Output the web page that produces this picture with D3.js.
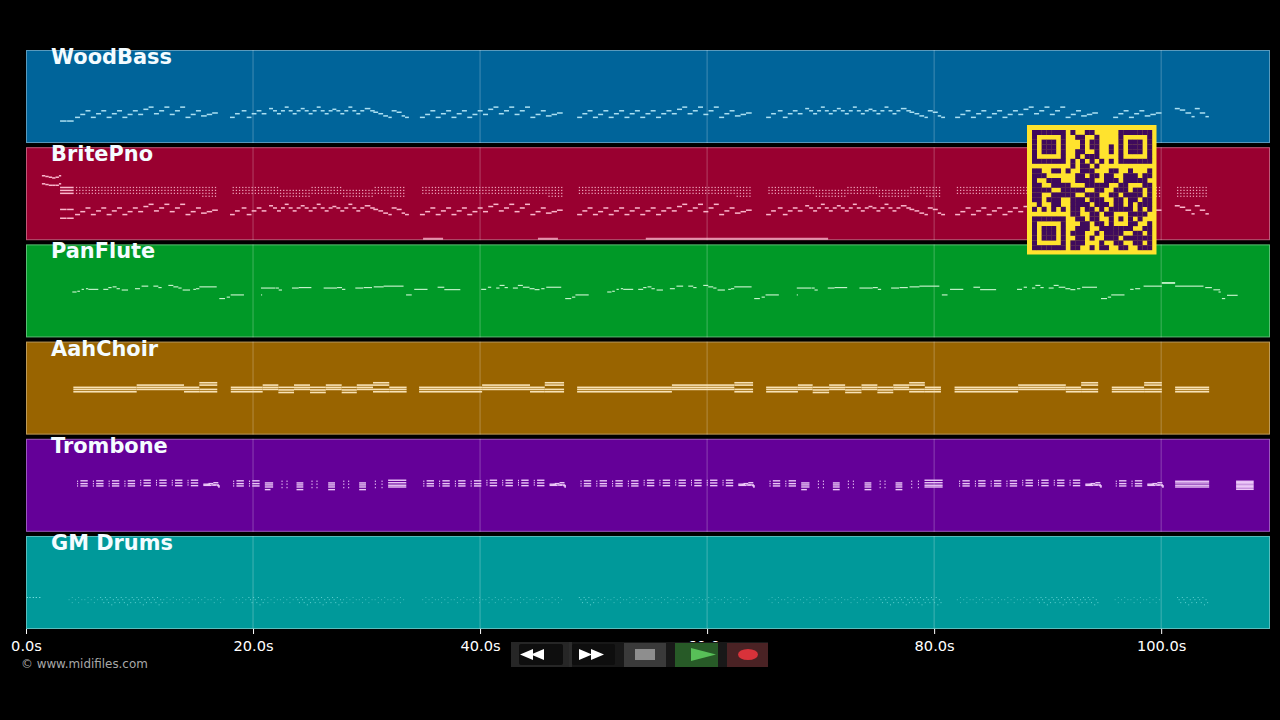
<!DOCTYPE html>
<html>
<head>
<meta charset="utf-8">
<title>MIDI piano roll</title>
<script src="https://cdn.jsdelivr.net/npm/d3@7"></script>
<style>
  html, body { margin: 0; background: #000; }
  svg { display: block; }
  text { font-family: "DejaVu Sans", sans-serif; }
</style>
</head>
<body>
<svg id="canvas" width="1280" height="720"></svg>
<script>
// tracks and axis
const trackNames = ['WoodBass', 'BritePno', 'PanFlute', 'AahChoir', 'Trombone', 'GM Drums'];
const tickTimes = [0, 20, 40, 60, 80, 100];
const tickLabels = ['0.0s', '20.0s', '40.0s', '60.0s', '80.0s', '100.0s'];
const songEnd = 109.5;

// phrases are [start, length, pitch], start counted from the beginning of the phrase
const bassIntro = [[3.0, .58, 30], [3.62, .58, 30]];
const bassA = [
  [0, .44, 35], [.46, .44, 39], [.92, .44, 44],
  [1.39, .44, 35], [1.85, .44, 40], [2.31, .44, 44],
  [2.78, .44, 35], [3.24, .44, 40], [3.7, .44, 44],
  [4.17, .44, 35], [4.63, .44, 39], [5.09, .44, 44],
  [5.56, .44, 39], [6.02, .44, 46], [6.48, .44, 49],
  [6.95, .44, 40], [7.41, .44, 44], [7.87, .44, 49],
  [8.34, .44, 39], [8.8, .44, 44], [9.26, .44, 49],
  [9.73, .44, 35], [10.19, .44, 39], [10.65, .44, 44],
  [11.1, .5, 37], [11.6, .48, 39], [12.08, .5, 41]
];
const bassA2 = [
  [0, .44, 35], [.46, .44, 40], [.92, .44, 44],
  [1.39, .44, 35], [1.85, .44, 39], [2.31, .44, 44],
  [2.78, .44, 35], [3.24, .44, 40], [3.7, .44, 44],
  [4.17, .44, 35], [4.63, .44, 40], [5.09, .44, 44],
  [5.56, .44, 35], [6.02, .44, 40], [6.48, .44, 44],
  [6.95, .44, 35], [7.41, .44, 40], [7.87, .44, 44],
  [8.34, .44, 40], [8.8, .44, 46], [9.26, .44, 49],
  [9.73, .44, 40], [10.19, .44, 44], [10.65, .44, 49],
  [11.12, .44, 39], [11.58, .44, 44], [12.04, .44, 49],
  [12.51, .44, 35], [12.97, .44, 40], [13.43, .44, 44],
  [13.9, .5, 37], [14.4, .48, 39], [14.88, .5, 41]
];
const bassB = [
  [0, .42, 35], [.44, .42, 40], [1.03, .42, 44],
  [1.47, .42, 35], [1.91, .42, 40], [2.35, .42, 44], [2.79, .42, 40],
  [3.44, .35, 47], [3.79, .35, 44], [4.14, .35, 40], [4.49, .35, 44],
  [4.82, .35, 49], [5.17, .35, 44], [5.52, .35, 40], [5.87, .35, 44],
  [6.23, .35, 47], [6.58, .35, 44], [6.93, .35, 40], [7.28, .35, 44],
  [7.64, .35, 49], [7.99, .35, 44], [8.34, .35, 40], [8.69, .35, 44],
  [9.02, .35, 46], [9.37, .35, 44], [9.72, .35, 40], [10.07, .35, 44],
  [10.43, .35, 49], [10.78, .35, 44], [11.13, .35, 40], [11.48, .35, 44],
  [11.87, .5, 47], [12.35, .4, 44], [12.63, .42, 42], [13.07, .42, 40], [13.5, .42, 37], [13.95, .3, 35],
  [14.24, .44, 44], [14.68, .44, 42], [15.12, .3, 37], [15.42, .34, 35]
];
const bassC = [
  [0, .44, 35], [.46, .44, 40], [.92, .44, 44],
  [1.39, .44, 35], [1.85, .44, 40], [2.31, .44, 44],
  [2.78, .5, 37], [3.28, .48, 39], [3.76, .5, 41]
];
const bassD = [[0, .44, 47], [.44, .48, 45], [.94, .5, 41], [1.47, .28, 36], [1.76, .44, 47], [2.2, .48, 41], [2.7, .3, 36]];
const bassAStarts = [4.32, 34.7, 81.85];
const bassA2Starts = [48.55];
const bassBStarts = [17.97, 65.2];
const bassCStarts = [95.77];
const bassDStarts = [101.2];

// piano chords: one voicing per 1.39s group, struck five times in the group
const groupLength = 1.39;
const pianoHits = [0, .28, .56, .84, 1.12];
const chordHigh = [72, 68, 64];
const chordLow = [68, 64, 60];
const chordFull = [72, 68, 64, 60];
const pianoVoicingA = [chordHigh, chordHigh, chordHigh, chordHigh, chordHigh, chordHigh, chordHigh, chordHigh, chordFull];
const pianoVoicingA2 = [chordHigh, chordHigh, chordHigh, chordHigh, chordHigh, chordHigh, chordHigh, chordHigh, chordHigh, chordHigh, chordFull];
const pianoVoicingB = [chordHigh, chordHigh, chordHigh, chordLow, chordLow, chordHigh, chordHigh, chordLow, chordLow, chordHigh, chordFull];
const pianoVoicingC = [chordHigh, chordHigh, chordFull];
const pianoVoicingD = [chordFull, chordFull];
const pianoAStarts = [4.4, 34.9, 82.0];
const pianoA2Starts = [48.7];
const pianoBStarts = [18.2, 65.4];
const pianoCStarts = [95.9];
const pianoDStarts = [101.4];
const pianoIntro = [
  [1.4, .3, 88], [1.7, .3, 87], [2.0, .3, 86], [2.3, .3, 85], [2.6, .3, 86], [2.9, .2, 88],
  [1.4, .3, 77], [1.7, .3, 76], [2.0, .3, 75], [2.3, .3, 75], [2.6, .3, 75], [2.9, .2, 77],
  [3.0, 1.2, 72], [3.0, 1.2, 68], [3.0, 1.2, 64],
  [3.0, .58, 42], [3.62, .58, 42], [3.0, .58, 30], [3.62, .58, 30]
];
const pianoLowNotes = [[34.98, 1.76, 2], [45.1, 1.76, 2], [54.6, 16.06, 2]];

const fluteF1 = [
  [0, .38, 62], [.44, .23, 63], [.82, .2, 65.6], [1.2, .2, 66.5], [1.41, .88, 65.6],
  [2.73, .44, 65.6], [3.17, .29, 68], [3.55, .35, 69], [3.9, .29, 66.5], [4.35, .56, 64.7],
  [5.52, .44, 66.5], [6.1, .59, 70], [7.14, .44, 70], [7.58, .29, 68],
  [8.46, .44, 71], [8.9, .44, 69], [9.34, .29, 67.4], [9.72, .65, 64.7],
  [10.66, .23, 65.6], [10.9, .29, 66.5], [11.19, 1.53, 69],
  [12.95, .5, 53], [13.6, .29, 55], [13.95, 1.17, 58]
];
const fluteF1Short = [
  [0, .44, 65.6], [.59, .29, 68.5], [1.32, .29, 67.4], [1.62, .44, 71], [2.06, .29, 68],
  [2.79, .44, 67.4], [3.23, .44, 71], [3.67, .59, 68.5], [4.26, .44, 66.5], [4.7, .44, 65.2],
  [5.29, .29, 66.5], [5.73, 1.32, 68.5],
  [7.4, .53, 53], [8.0, .29, 55], [8.3, 1.17, 58]
];
const fluteF2 = [
  [0, .1, 58], [0, 1.26, 67.4], [1.29, .29, 67.4], [1.56, .29, 64.7],
  [2.73, .59, 67.4], [3.32, 1.12, 68],
  [5.52, 1.17, 67.4], [6.7, .44, 68], [7.14, .29, 65.6],
  [8.31, .7, 67.4], [9.05, .73, 68], [9.93, .88, 69], [10.8, 1.76, 70],
  [12.78, .5, 58], [13.5, 1.17, 65.6], [15.56, .59, 68.5], [16.15, 1.41, 65.2]
];
const fluteEnd = [
  [97.27, .3, 65.6], [97.71, .44, 66.5], [98.45, 1.61, 70], [100.06, 1.17, 74.7], [100.06, 1.17, 74],
  [101.23, 2.5, 70], [103.88, .59, 68], [104.6, .59, 65], [105.05, .2, 62], [105.35, .29, 53], [105.8, .94, 57.5]
];
const fluteF1Starts = [4.08, 51.2];
const fluteShortStarts = [40.1, 87.3];
const fluteF2Starts = [20.7, 67.9];

// choir blocks are [start, end, chord]
const choirChordA = [64.5, 61.7, 58.5];
const choirChordB = [67.6, 64.5, 61.7];
const choirChordC = [64.5, 61, 57.5];
const choirChordD = [70.8, 67.6, 61.7, 58.5];
const choirBlocks = [
  [4.17, 9.75, choirChordA], [9.75, 13.92, choirChordB], [13.92, 15.27, choirChordA], [15.27, 16.85, choirChordD],
  [18.04, 20.85, choirChordA], [20.85, 22.23, choirChordB], [22.23, 23.61, choirChordC], [23.61, 25.02, choirChordB],
  [25.02, 26.41, choirChordC], [26.41, 27.81, choirChordB], [27.81, 29.14, choirChordC], [29.14, 30.57, choirChordB],
  [30.57, 32.0, choirChordD], [32.0, 33.53, choirChordA],
  [34.63, 40.18, choirChordA], [40.18, 44.4, choirChordB], [44.4, 45.7, choirChordA], [45.7, 47.4, choirChordD],
  [48.55, 56.9, choirChordA], [56.9, 62.4, choirChordB], [62.4, 64.05, choirChordD],
  [65.2, 68.0, choirChordA], [68.0, 69.3, choirChordB], [69.3, 70.75, choirChordC], [70.75, 72.16, choirChordB],
  [72.16, 73.6, choirChordC], [73.6, 75.0, choirChordB], [75.0, 76.4, choirChordC], [76.4, 77.8, choirChordB],
  [77.8, 79.18, choirChordD], [79.18, 80.6, choirChordA],
  [81.8, 87.4, choirChordA], [87.4, 91.6, choirChordB], [91.6, 92.95, choirChordA], [92.95, 94.45, choirChordD],
  [95.65, 98.5, choirChordA], [98.5, 100.06, choirChordD],
  [101.23, 104.23, choirChordA]
];

// trombone
const tromGroupLow = [
  [0, .09, 69], [0, .09, 65.8], [0, .09, 62.6],
  [.29, .65, 69.6], [.29, .65, 65.8], [.29, .65, 62.6]
];
const tromGroupHigh = [
  [0, .09, 70], [0, .09, 67], [0, .09, 64],
  [.29, .65, 70.4], [.29, .65, 66.7], [.29, .65, 63]
];
const tromSquiggle = [
  [0, .44, 65], [0, .7, 63.4], [.3, .3, 64.5], [.44, .44, 65.8], [.7, .4, 63.8], [.88, .44, 67],
  [.88, .5, 64], [1.2, .2, 63], [1.3, .15, 61.2], [1.3, .15, 62.6]
];
const tromBars = [
  [2.79, .73, 66.7], [2.79, .73, 64], [2.79, .73, 61.2], [2.79, .5, 57.6],
  [4.26, .09, 69], [4.26, .09, 65], [4.26, .09, 60.4], [4.7, .09, 69], [4.7, .09, 65], [4.7, .09, 60.4],
  [5.58, .6, 66.7], [5.58, .6, 64], [5.58, .6, 61.2], [5.58, .6, 57.6],
  [6.9, .09, 69], [6.9, .09, 65], [6.9, .09, 60.4], [7.34, .09, 69], [7.34, .09, 65], [7.34, .09, 60.4],
  [8.37, .6, 66.7], [8.37, .6, 64], [8.37, .6, 61.2], [8.37, .6, 57.6],
  [9.7, .09, 69], [9.7, .09, 65], [9.7, .09, 60.4], [10.13, .09, 69], [10.13, .09, 65], [10.13, .09, 60.4],
  [11.1, .6, 66.7], [11.1, .6, 64], [11.1, .6, 61.2], [11.1, .6, 57.6],
  [12.48, .09, 69], [12.48, .09, 65], [12.48, .09, 60.4], [13.07, .09, 69], [13.07, .09, 65], [13.07, .09, 60.4],
  [13.65, 1.6, 70.4], [13.65, 1.6, 67], [13.65, 1.6, 63.6], [13.65, 1.6, 61.2]
];
const tromEnd = [
  [101.23, 3, 69], [101.23, 3, 66.7], [101.23, 3, 63.6], [101.23, 3, 61.2],
  [106.6, 1.55, 69], [106.6, 1.55, 67.3], [106.6, 1.55, 65.5], [106.6, 1.55, 63.6],
  [106.6, 1.55, 61.8], [106.6, 1.55, 60], [106.6, 1.55, 58]
];
const tromASections = [4.5, 35.0, 82.2];
const tromA2Sections = [48.85];
const tromBSections = [18.25, 65.5];
const tromCSections = [96.0];

// drums: sparse and busy bars, one letter per group of every section
const drumIntro = [[.06, 43], [.29, 43], [.59, 43], [.85, 43], [1.15, 43]];
const drumSparse = [[0, 40], [.28, 43], [.28, 36], [.56, 40], [.84, 43], [.84, 36], [1.12, 40]];
const drumBusy = [[0, 43], [.14, 40], [.28, 36], [.42, 43], [.56, 40], [.7, 36], [.84, 43], [.98, 33], [1.12, 40], [1.26, 36]];
const drumSections = [
  [3.75, 'ssbbbbssss'], [18.2, 'sbssbbbssss'], [34.9, 'sssssssss'], [48.7, 'bssssssssss'],
  [65.4, 'sssssssbbbb'], [82.0, 'sssssbbbb'], [95.9, 'sss'], [101.4, 'bb']
];

const qrRows = [
  '1111111 0 1001100000 1111111',
  '1000001 0 0110010000 1000001',
  '1011101 0 0010110000 1011101',
  '1011101 0 0010110010 1011101',
  '1011101 0 0110010010 1011101',
  '1000001 0 0101110000 1000001',
  '1111111 0 1010101010 1111111',
  '0000000 0 1011010000 0000000',
  '1100110100111000110010001',
  '1110000001101101100111011',
  '1001110001111001110111110',
  '1100111100011111001100011',
  '1111001111100110011101101',
  '1100111110011100110111101',
  '1101110011101110011011011',
  '0100110011110111011010111',
  '1010101011011010 11111 0101',
  '0000000011001101 10001 1110',
  '1111111 0 01101100 10101 0100',
  '1000001 0 00110110 10001 1001',
  '1011101 0 01110011 11111 0011',
  '1011101 0 11100101 11100 1101',
  '1011101 0 01101001 11011 1111',
  '1000001 0 11100010 01100 1101',
  '1111111 0 11001011 00110 0111'
].map(row => row.replace(/ /g, ''));

const place = (phrase, starts) => starts.flatMap(t0 => phrase.map(([t, d, p]) => [t0 + t, d, p]));
const placeChords = (voicing, starts) => starts.flatMap(t0 =>
  voicing.flatMap((chord, g) => pianoHits.flatMap(h => chord.map(p => [t0 + g * groupLength + h, .11, p]))));

const trackFill = d3.scaleOrdinal(trackNames, ['#00649a', '#990030', '#009927', '#996400', '#640098', '#00999a']);
const noteFill = d3.scaleOrdinal(trackNames, ['#b4e6f6', '#ffc0d4', '#d0f6d4', '#f8e2b6', '#ecc8f8', '#7fe4e4']);

const canvas = d3.select('#canvas');
const x = d3.scaleLinear().domain([0, songEnd]).range([26, 1269]);
const band = d3.scaleBand().domain(trackNames).range([50, 629]).paddingInner(.043);
const pitchY = name => d3.scaleLinear().domain([0, 127]).range([band(name) + band.bandwidth(), band(name)]);

const panels = canvas.selectAll('g.panel').data(trackNames).enter().append('g').attr('class', 'panel');
panels.append('rect')
  .attr('x', x(0) + .5).attr('y', d => band(d) + .5)
  .attr('width', x(songEnd) - x(0)).attr('height', band.bandwidth() - 1)
  .attr('fill', d => trackFill(d))
  .attr('stroke', d => d3.interpolateRgb(trackFill(d), '#fff')(.35));
panels.selectAll('line')
  .data(d => tickTimes.slice(1).map(t => ({ t, name: d })))
  .enter().append('line')
  .attr('x1', d => x(d.t)).attr('x2', d => x(d.t))
  .attr('y1', d => band(d.name)).attr('y2', d => band(d.name) + band.bandwidth())
  .attr('stroke', '#fff').attr('stroke-opacity', .25);

const drawNotes = (name, notes, thickness, opacity) => {
  const y = pitchY(name);
  canvas.append('g').selectAll('rect').data(notes).enter().append('rect')
    .attr('x', d => x(d[0]))
    .attr('y', d => y(d[2]) - thickness / 2)
    .attr('width', d => Math.max(x(d[0] + d[1]) - x(d[0]), 1))
    .attr('height', thickness)
    .attr('fill', noteFill(name))
    .attr('fill-opacity', opacity);
};

const bassNotes = [
  ...place(bassA, bassAStarts), ...place(bassA2, bassA2Starts), ...place(bassB, bassBStarts),
  ...place(bassC, bassCStarts), ...place(bassD, bassDStarts)
];
drawNotes('WoodBass', [...bassIntro, ...bassNotes], 1.5, .95);

drawNotes('BritePno', bassNotes, 1.5, .95);
drawNotes('BritePno', pianoIntro, 1.5, .95);
drawNotes('BritePno', pianoLowNotes, 2, .75);
drawNotes('BritePno', [
  ...placeChords(pianoVoicingA, pianoAStarts), ...placeChords(pianoVoicingA2, pianoA2Starts),
  ...placeChords(pianoVoicingB, pianoBStarts), ...placeChords(pianoVoicingC, pianoCStarts),
  ...placeChords(pianoVoicingD, pianoDStarts)
], 1.2, .85);

drawNotes('PanFlute', [
  ...place(fluteF1, fluteF1Starts), ...place(fluteF1Short, fluteShortStarts),
  ...place(fluteF2, fluteF2Starts), ...fluteEnd
], 1.1, 1);

drawNotes('AahChoir', choirBlocks.flatMap(([a, b, chord]) => chord.map(p => [a, b - a, p])), 1.6, 1);

const tromGroups = (starts, count) => starts.flatMap(t0 => d3.range(count).flatMap(k =>
  (k < 4 ? tromGroupLow : tromGroupHigh).map(([t, d, p]) => [t0 + k * groupLength + t, d, p])));
drawNotes('Trombone', [
  ...tromGroups(tromASections, 8), ...place(tromSquiggle, tromASections.map(t => t + 8 * groupLength)),
  ...tromGroups(tromA2Sections, 10), ...place(tromSquiggle, tromA2Sections.map(t => t + 10 * groupLength)),
  ...tromGroups(tromBSections, 2), ...place(tromBars, tromBSections),
  ...tromGroups(tromCSections, 2), ...place(tromSquiggle, tromCSections.map(t => t + 2 * groupLength)),
  ...tromEnd
], 1.4, 1);

const drumNotes = kind => drumSections.flatMap(([t0, bars]) => bars.split('').flatMap((b, g) =>
  b === kind ? (kind === 'b' ? drumBusy : drumSparse).map(([h, p]) => [t0 + g * groupLength + h, .09, p]) : []));
drawNotes('GM Drums', drumIntro.map(([t, p]) => [t, .12, p]), 1, .9);
drawNotes('GM Drums', drumNotes('s'), 1, .5);
drawNotes('GM Drums', drumNotes('b'), 1, .75);

panels.append('text')
  .attr('x', 51).attr('y', d => band(d) + 14)
  .attr('font-size', 20.9).attr('font-weight', 'bold')
  .attr('fill', '#f4fcff')
  .text(d => d);

const axis = d3.axisBottom(x).tickValues(tickTimes).tickSize(5).tickSizeOuter(0)
  .tickFormat((d, i) => tickLabels[i]);
const axisGroup = canvas.append('g').attr('transform', 'translate(0,629)').call(axis);
axisGroup.select('.domain').remove();
axisGroup.selectAll('line').attr('stroke', '#fff');
axisGroup.selectAll('text')
  .attr('fill', '#fff').attr('font-size', 14.6).attr('font-family', '"DejaVu Sans", sans-serif')
  .attr('y', 12);

canvas.append('text').attr('x', 21).attr('y', 668)
  .attr('font-size', 11.9).attr('fill', '#a8a8a8').text('© www.midifiles.com');

// QR overlay
const qr = canvas.append('g');
qr.append('rect').attr('x', 1027).attr('y', 125).attr('width', 129.5).attr('height', 129.5).attr('fill', '#ffe32e');
const qrScale = d3.scaleBand().domain(d3.range(25)).range([1032, 1152]);
const qrScaleY = d3.scaleBand().domain(d3.range(25)).range([130, 250]);
qrRows.forEach((row, r) => {
  row.split('').forEach((cell, c) => {
    if (cell === '1') {
      qr.append('rect').attr('x', qrScale(c)).attr('y', qrScaleY(r))
        .attr('width', qrScale.bandwidth() + .2).attr('height', qrScaleY.bandwidth() + .2)
        .attr('fill', '#3f0a5c');
    }
  });
});

// transport buttons
const bar = canvas.append('g');
bar.append('rect').attr('x', 511).attr('y', 642).attr('width', 257).attr('height', 25).attr('fill', '#181818');
bar.append('rect').attr('x', 511).attr('y', 642).attr('width', 58).attr('height', 25).attr('fill', '#262626');
bar.append('rect').attr('x', 519).attr('y', 644).attr('width', 44).attr('height', 21).attr('rx', 2).attr('fill', '#0e0e0e');
bar.append('rect').attr('x', 569).attr('y', 642).attr('width', 3).attr('height', 25).attr('fill', '#2c2c2c');
bar.append('rect').attr('x', 572).attr('y', 644).attr('width', 43).attr('height', 21).attr('rx', 2).attr('fill', '#0e0e0e');
bar.append('rect').attr('x', 624).attr('y', 643).attr('width', 42).attr('height', 24).attr('fill', '#3a3a3a');
bar.append('rect').attr('x', 635).attr('y', 649).attr('width', 20).attr('height', 11).attr('fill', '#8e8e8e');
bar.append('rect').attr('x', 675).attr('y', 643).attr('width', 43).attr('height', 24).attr('fill', '#275a27');
bar.append('rect').attr('x', 727).attr('y', 643).attr('width', 41).attr('height', 24).attr('fill', '#4a2224');
bar.append('ellipse').attr('cx', 748).attr('cy', 654.5).attr('rx', 10).attr('ry', 5.5).attr('fill', '#d8323a');
bar.append('path').attr('d', 'M691 648L716 654.5L691 661Z').attr('fill', '#58c058');
bar.append('path').attr('d', 'M533 649L520 654.5L533 660ZM544 649L531 654.5L544 660Z').attr('fill', '#fff');
bar.append('path').attr('d', 'M579 649L592 654.5L579 660ZM591 649L604 654.5L591 660Z').attr('fill', '#fff');
</script>
</body>
</html>
